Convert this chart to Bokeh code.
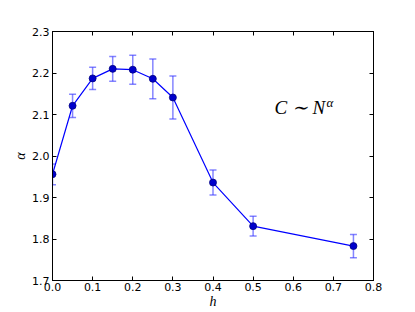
from bokeh.plotting import figure
from bokeh.models import (ColumnDataSource, Whisker, TeeHead, LinearAxis, FixedTicker,
                          Range1d, Label, NumeralTickFormatter)
from bokeh.embed import file_html
from bokeh.resources import INLINE

h = [0.0, 0.05, 0.1, 0.15, 0.2, 0.25, 0.3, 0.4, 0.5, 0.75]
alpha = [1.956, 2.121, 2.187, 2.210, 2.208, 2.186, 2.141, 1.936, 1.831, 1.783]
err = [0.025, 0.028, 0.027, 0.030, 0.035, 0.048, 0.052, 0.030, 0.024, 0.028]
x_ticks = [0.0, 0.1, 0.2, 0.3, 0.4, 0.5, 0.6, 0.7, 0.8]
y_ticks = [1.7, 1.8, 1.9, 2.0, 2.1, 2.2, 2.3]

src = ColumnDataSource(dict(
    h=h, a=alpha,
    lo=[a - e for a, e in zip(alpha, err)],
    hi=[a + e for a, e in zip(alpha, err)],
))

p = figure(width=410, height=311, output_backend="svg", toolbar_location=None,
           x_range=Range1d(0, 0.8), y_range=Range1d(1.7, 2.3),
           min_border_left=52, min_border_right=37, min_border_top=31, min_border_bottom=31,
           x_axis_label="h", y_axis_label="α")
p.grid.visible = False
p.outline_line_color = "black"
p.outline_line_width = 1
p.background_fill_color = "white"
p.border_fill_color = "white"

for ax in (p.xaxis[0], p.yaxis[0]):
    ax.major_tick_in = 4
    ax.major_tick_out = 0
    ax.minor_tick_line_color = None
    ax.axis_line_color = "black"
    ax.major_label_text_font = "DejaVu Sans"
    ax.major_label_text_font_size = "11px"
    ax.major_label_text_color = "black"
    ax.axis_label_text_font = "Liberation Serif"
    ax.axis_label_text_font_style = "italic"
    ax.axis_label_text_font_size = "14px"
    ax.axis_label_text_color = "black"
    ax.formatter = NumeralTickFormatter(format="0.0")
p.xaxis[0].ticker = FixedTicker(ticks=x_ticks)
p.yaxis[0].ticker = FixedTicker(ticks=y_ticks)
p.xaxis[0].major_label_standoff = 2
p.xaxis[0].axis_label_standoff = 0
p.yaxis[0].major_label_standoff = 3
p.yaxis[0].axis_label_standoff = 1

top = LinearAxis(ticker=FixedTicker(ticks=x_ticks), major_tick_in=4, major_tick_out=0,
                 minor_tick_line_color=None, axis_line_color="black",
                 major_label_overrides={t: "" for t in x_ticks})
right = LinearAxis(ticker=FixedTicker(ticks=y_ticks), major_tick_in=4, major_tick_out=0,
                   minor_tick_line_color=None, axis_line_color="black",
                   major_label_overrides={t: "" for t in y_ticks})
p.add_layout(top, "above")
p.add_layout(right, "right")

w = Whisker(source=src, base="h", upper="hi", lower="lo",
            line_color="#3333ff", line_alpha=0.6, line_width=1.5,
            upper_head=TeeHead(size=7, line_color="#3333ff", line_alpha=0.6, line_width=1.5),
            lower_head=TeeHead(size=7, line_color="#3333ff", line_alpha=0.6, line_width=1.5))
p.add_layout(w)

p.line("h", "a", source=src, line_color="#0000ff", line_width=1.2)
p.scatter("h", "a", source=src, size=7, fill_color="#0000cc", line_color="#000080",
          line_width=0.8)

lab = Label(x=0.553, y=2.116, text="C ∼ N", text_font="Liberation Serif",
            text_font_style="italic", text_font_size="19px", text_baseline="middle",
            text_color="black")
lab2 = Label(x=0.553, y=2.116, x_offset=52, y_offset=5, text="α", text_font="Liberation Serif",
             text_font_style="italic", text_font_size="13px", text_baseline="middle",
             text_color="black")
p.add_layout(lab)
p.add_layout(lab2)

open("out.html", "w").write(file_html(p, INLINE))
